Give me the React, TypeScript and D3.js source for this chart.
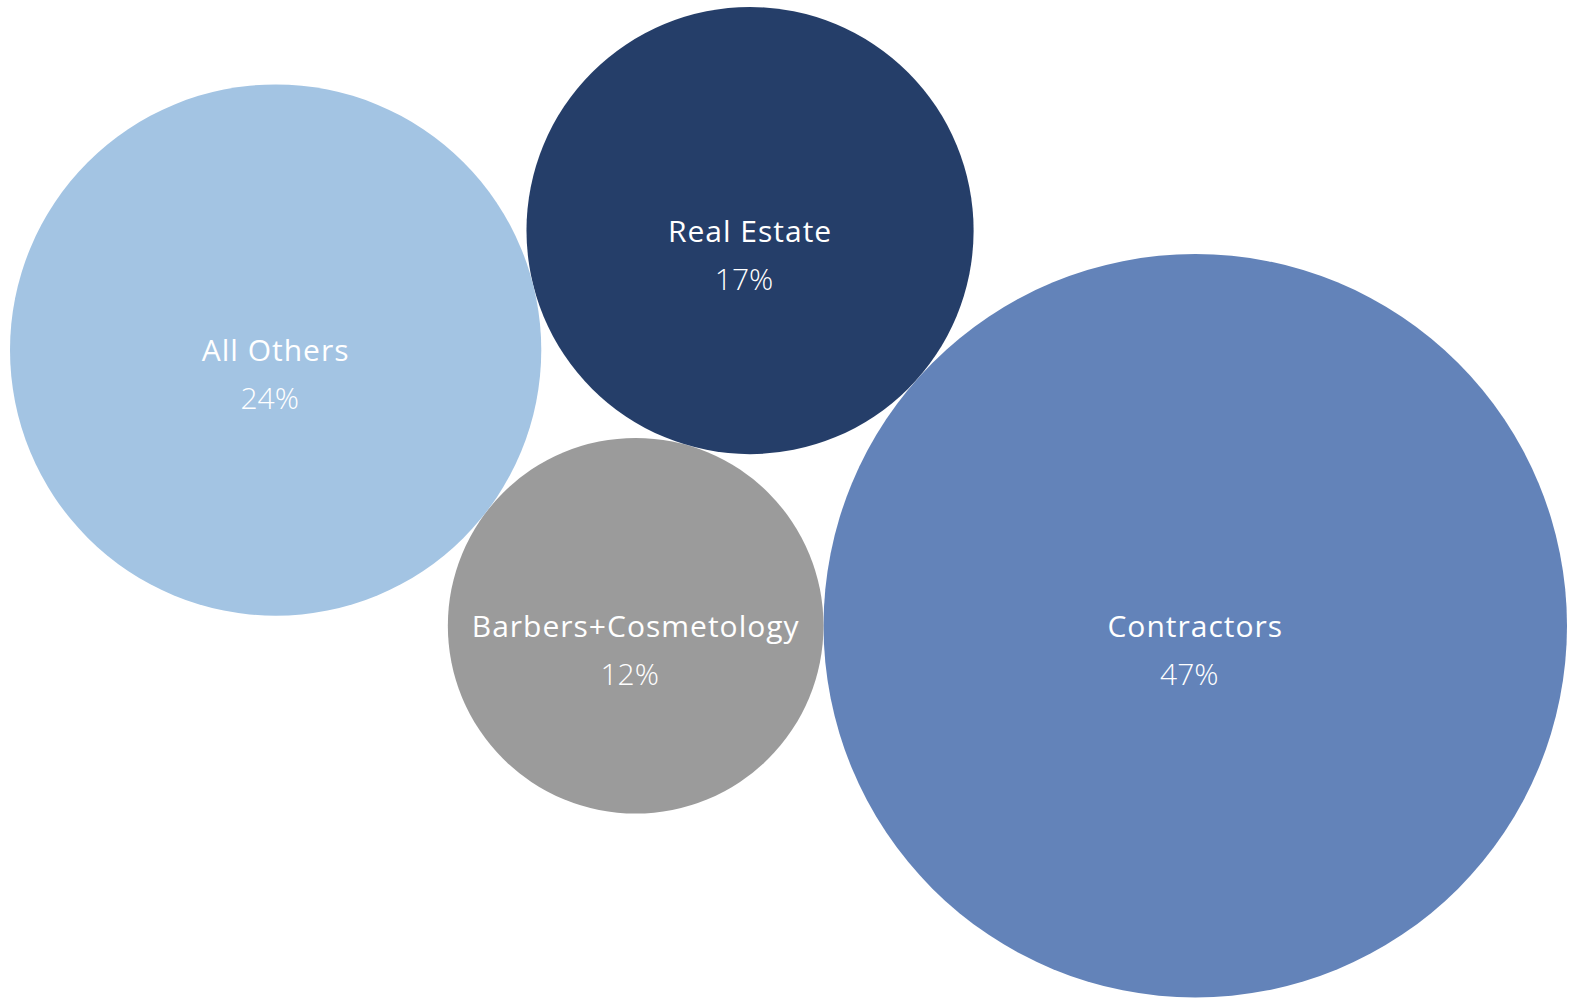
import { useEffect, useRef } from 'react'
import * as d3 from 'd3'

// * Data
const categories = ['Contractors', 'Barbers+Cosmetology', 'Real Estate', 'All Others']
const shares = [47, 12, 17, 24]
const colors = ['#6383b9', '#9b9b9b', '#253e69', '#a3c4e3']

const WIDTH = 1574
const HEIGHT = 999

interface Bubble {
  name: string
  value: number
  color: string
  r: number
  x: number
  y: number
}

// point tangent to two circles (centers p, q, distances dp, dq), side = +1 / -1
function tangentPoint(p: Bubble, q: Bubble, dp: number, dq: number, side: number) {
  const dx = q.x - p.x
  const dy = q.y - p.y
  const d = Math.hypot(dx, dy)
  const a = (d * d + dp * dp - dq * dq) / (2 * d)
  const h = Math.sqrt(Math.max(0, dp * dp - a * a))
  const ux = dx / d
  const uy = dy / d
  return {
    x: p.x + a * ux + side * h * -uy,
    y: p.y + a * uy + side * h * ux,
  }
}

export default function App() {
  const ref = useRef<SVGSVGElement | null>(null)

  useEffect(() => {
    const svg = d3.select(ref.current)
    svg.selectAll('*').remove()

    // * area proportional to share
    const rScale = d3.scaleSqrt().domain([0, d3.max(shares)!]).range([0, 100])

    const bubbles: Bubble[] = categories.map((name, i) => ({
      name,
      value: shares[i],
      color: colors[i],
      r: rScale(shares[i]),
      x: 0,
      y: 0,
    }))

    // * Layout: each bubble touches its neighbours
    const [big, barb, real, others] = bubbles
    barb.x = big.x - (big.r + barb.r)
    barb.y = big.y
    const pr = tangentPoint(barb, big, barb.r + real.r, big.r + real.r, -1)
    real.x = pr.x
    real.y = pr.y
    const po = tangentPoint(barb, real, barb.r + others.r, real.r + others.r, -1)
    others.x = po.x
    others.y = po.y

    // * Fit into the page (uniform scale so circles stay round and touching)
    const left = d3.min(bubbles, (d) => d.x - d.r)!
    const right = d3.max(bubbles, (d) => d.x + d.r)!
    const top = d3.min(bubbles, (d) => d.y - d.r)!
    const k = (1567 - 10) / (right - left)
    const px = (x: number) => 10 + (x - left) * k
    const py = (y: number) => 7 + (y - top) * k

    const g = svg.append('g')

    const node = g
      .selectAll('.bubble')
      .data(bubbles)
      .enter()
      .append('g')
      .attr('class', 'bubble')
      .attr('transform', (d) => `translate(${px(d.x)},${py(d.y)})`)

    node
      .append('circle')
      .attr('r', (d) => d.r * k)
      .attr('fill', (d) => d.color)

    node
      .append('text')
      .attr('text-anchor', 'middle')
      .attr('y', 11)
      .attr('fill', '#ffffff')
      .attr('font-family', '"Open Sans", "Noto Sans", sans-serif')
      .attr('font-size', 30)
      .attr('font-weight', 400)
      .attr('letter-spacing', 1)
      .text((d) => d.name)

    node
      .append('text')
      .attr('text-anchor', 'middle')
      .attr('x', -6)
      .attr('y', 59)
      .attr('fill', '#ffffff')
      .attr('font-family', '"Open Sans", "Noto Sans", sans-serif')
      .attr('font-size', 30)
      .attr('font-weight', 300)
      .text((d) => `${d.value}%`)
  }, [])

  return (
    <svg
      ref={ref}
      width={WIDTH}
      height={HEIGHT}
      style={{ position: 'absolute', left: 0, top: 0, display: 'block' }}
    />
  )
}
